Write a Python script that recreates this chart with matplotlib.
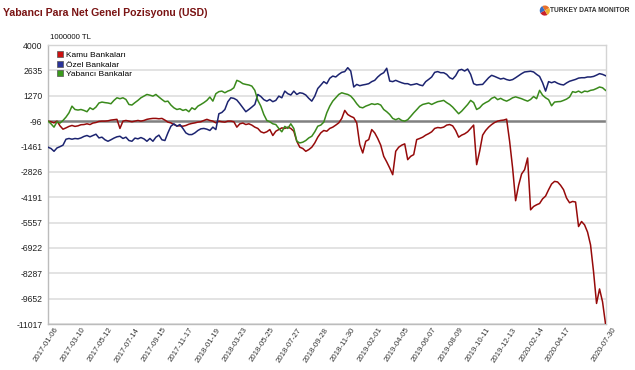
import matplotlib
matplotlib.use("Agg")
import matplotlib.pyplot as plt
from matplotlib.patches import Patch
from matplotlib.transforms import ScaledTranslation
import pandas as pd

plt.rcParams['font.family'] = ['Liberation Sans', 'DejaVu Sans']

# weekly dates, the last observation is a Thursday
dates = list(pd.date_range('2017-01-06', periods=186, freq='7D').strftime('%Y-%m-%d')) + ['2020-07-30']

kamu = [
    -96, -130, -190, -96, -350, -530, -460, -380, -330, -380,
    -350, -290, -280, -240, -280, -200, -170, -110, -96, -96,
    -80, -40, -20, 0, -490, -96, -60, -96, -130, -96,
    -60, -96, -60, 0, 30, 50, 50, 30, 50, -40,
    -150, -190, -280, -350, -350, -370, -330, -260, -220, -190,
    -150, -130, -60, 0, -60, -96, -190, -96, -130, -150,
    -96, -96, -130, -420, -240, -200, -280, -240, -310, -420,
    -490, -670, -730, -670, -550, -870, -640, -550, -460, -490,
    -420, -490, -640, -1180, -1500, -1570, -1720, -1630, -1500, -1270,
    -960, -730, -600, -640, -490, -420, -310, -190, 50, 480,
    260, 160, 90, -190, -1360, -1810, -1180, -1090, -550, -730,
    -1030, -1390, -1990, -2290, -2620, -2980, -1720, -1500, -1390, -1320,
    -2170, -1990, -1900, -1090, -1030, -960, -850, -770, -670, -490,
    -440, -460, -420, -310, -280, -350, -600, -960, -850, -780,
    -670, -490, -310, -2440, -1720, -850, -600, -420, -280, -170,
    -96, -60, -40, 10, -1180, -2620, -4380, -3550, -2940, -2710,
    -2080, -4870, -4690, -4600, -4530, -4280, -4130, -3790, -3480, -3340,
    -3370, -3550, -3790, -4240, -4490, -4420, -4450, -5770, -5500, -5680,
    -6070, -6760, -8200, -9910, -9130, -9820, -11017,
]

ozel = [
    -1500, -1570, -1720, -1540, -1470, -1390, -1070, -1030, -1070, -1030,
    -1050, -1000, -920, -870, -940, -870, -800, -1000, -960, -1100,
    -1180, -1100, -1010, -940, -910, -1030, -960, -1140, -1180, -1010,
    -1050, -980, -1050, -1180, -1030, -1180, -960, -850, -1100, -1140,
    -730, -370, -240, -370, -280, -490, -730, -820, -820, -730,
    -600, -510, -490, -530, -600, -420, -550, 300, 370, 530,
    950, 1160, 1130, 1040, 840, 620, 410, 530, 660, 800,
    1340, 1230, 1060, 980, 1070, 950, 1020, 1250, 1160, 1520,
    1380, 1310, 1520, 1340, 1430, 1400, 1310, 1130, 980, 1250,
    1660, 1840, 2030, 1920, 2210, 2330, 2280, 2420, 2530, 2570,
    2780, 2600, 1740, 1880, 1810, 1850, 1880, 1920, 2030, 2100,
    2280, 2420, 2510, 2750, 2060, 2030, 2100, 2030, 1970, 1920,
    1920, 1850, 1880, 1920, 1850, 1810, 2030, 2150, 2280, 2530,
    2570, 2510, 2510, 2420, 2240, 2170, 2350, 2640, 2690, 2600,
    2710, 2420, 1920, 1850, 1870, 1880, 2060, 2240, 2370, 2310,
    2240, 2170, 2210, 2140, 2100, 2140, 2240, 2350, 2460, 2550,
    2570, 2590, 2550, 2420, 2310, 1970, 1520, 2030, 1970, 2030,
    1940, 1880, 1850, 1960, 2050, 2100, 2150, 2220, 2240, 2240,
    2280, 2280, 2310, 2380, 2460, 2420, 2350,
]

yabanci = [
    -96, -240, -420, -130, -200, -60, 120, 350, 710, 530,
    500, 530, 480, 410, 620, 530, 660, 880, 930, 900,
    880, 840, 1020, 1160, 1110, 1160, 1070, 800, 770, 900,
    1020, 1160, 1250, 1340, 1300, 1250, 1340, 1200, 1070, 950,
    980, 770, 620, 530, 570, 480, 530, 410, 620, 530,
    710, 800, 900, 1020, 1200, 980, 1380, 1490, 1520, 1430,
    1520, 1580, 1700, 2100, 2030, 1920, 1880, 1850, 1790, 1560,
    1020, 710, 260, -60, -130, -240, -280, -490, -670, -380,
    -490, -240, -490, -1180, -1270, -1230, -1140, -1000, -910, -670,
    -370, -310, -150, 350, 710, 980, 1160, 1340, 1430, 1380,
    1340, 1250, 1070, 840, 660, 620, 710, 770, 840, 800,
    840, 770, 530, 410, 260, 50, -20, 50, -60, -96,
    -20, 160, 350, 520, 700, 800, 840, 880, 800, 880,
    950, 980, 1020, 900, 800, 660, 480, 300, 440, 620,
    800, 1020, 900, 530, 620, 800, 900, 980, 1130, 1200,
    1060, 1130, 1040, 980, 1060, 1160, 1210, 1160, 1110, 1040,
    980, 1070, 1230, 1110, 1560, 1300, 1160, 1060, 730, 930,
    950, 960, 1020, 1090, 1200, 1490, 1450, 1520, 1430, 1520,
    1490, 1560, 1590, 1660, 1740, 1700, 1560,
]

y_ticks = [4000, 2635, 1270, -96, -1461, -2826, -4191, -5557, -6922, -8287, -9652, -11017]
x_tick_labels = ['2017-01-06', '2017-03-10', '2017-05-12', '2017-07-14', '2017-09-15',
                 '2017-11-17', '2018-01-19', '2018-03-23', '2018-05-25', '2018-07-27',
                 '2018-09-28', '2018-11-30', '2019-02-01', '2019-04-05', '2019-06-07',
                 '2019-08-09', '2019-10-11', '2019-12-13', '2020-02-14', '2020-04-17',
                 '2020-07-30']

names = ['Kamu Bankaları', 'Özel Bankalar', 'Yabancı Bankalar']
line_colors = ['#960a0a', '#1c2470', '#3a8a1c']
box_colors = ['#cc1111', '#2a3399', '#3a9a1c']

fig = plt.figure(figsize=(6.35, 3.7), dpi=100)
ax = fig.add_axes([0.0756, 0.1243, 0.878, 0.754])

x = list(range(len(dates)))
for yv in y_ticks:
    if yv == -96:
        ax.axhline(yv, color='#808080', lw=1.8, zorder=1)
    else:
        ax.axhline(yv, color='#dedede', lw=1.2, zorder=0)

for vals, c in zip([kamu, ozel, yabanci], line_colors):
    ax.plot(x, vals, color=c, lw=1.1, zorder=3)

ax.set_xlim(0, len(dates) - 1)
ax.set_ylim(min(y_ticks), max(y_ticks))
ax.tick_params(axis='y', length=0, pad=4)
ax.tick_params(axis='x', length=0, pad=3)
ax.set_yticks(y_ticks)
ax.set_yticklabels([str(v) for v in y_ticks], fontsize=6.2, color='#222222')
tick_pos = [dates.index(d) for d in x_tick_labels]
ax.set_xticks(tick_pos)
ax.set_xticklabels(x_tick_labels, rotation=57, ha='right', va='center',
                   rotation_mode='anchor', fontsize=5.6, color='#333333')
# labels sit a little to the right of their date
shift = ScaledTranslation(9 / 100, 0, fig.dpi_scale_trans)
for lbl in ax.get_xticklabels():
    lbl.set_transform(lbl.get_transform() + shift)
for s in ax.spines.values():
    s.set_color('#d4d4d4')
    s.set_linewidth(1.0)
ax.spines['left'].set_color('#bcbcbc')
ax.spines['bottom'].set_color('#bcbcbc')

handles = [Patch(facecolor=bc, edgecolor='#555555', lw=0.5) for bc in box_colors]
ax.legend(handles, names, loc='upper left', bbox_to_anchor=(0.005, 1.0), frameon=False,
          fontsize=6.0, handlelength=0.75, handleheight=0.75, handletextpad=0.35,
          labelspacing=0.16, borderaxespad=0.35)

fig.text(0.005, 0.966, 'Yabancı Para Net Genel Pozisyonu (USD)', color='#7a1414',
         fontsize=7.6, fontweight='bold', va='center', ha='left')
fig.text(0.078, 0.899, '1000000 TL', fontsize=5.6, va='center', ha='left', color='#111111')
fig.text(0.992, 0.972, 'TURKEY DATA MONITOR', fontsize=4.8, fontweight='bold',
         va='center', ha='right', color='#333333')
logo = fig.add_axes([0.848, 0.949, 0.02, 0.045])
logo.pie([1, 1, 1, 1], colors=['#e8702a', '#3a6fc4', '#c8202a', '#f0b030'], startangle=30)
logo.set_aspect('equal')
logo.axis('off')

fig.savefig('out.png', dpi=100, facecolor='white')
